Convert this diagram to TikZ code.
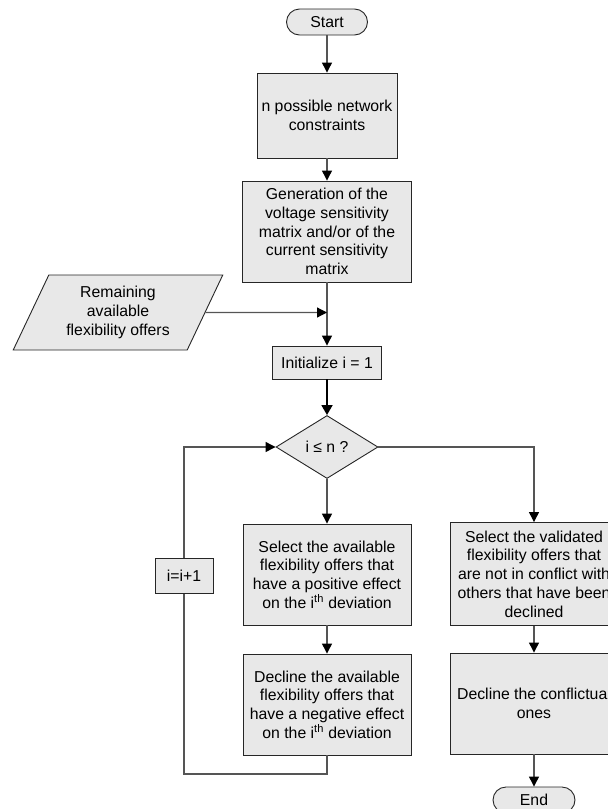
\documentclass[tikz,border=0pt]{standalone}
\usepackage{fontspec}
\setmainfont{Liberation Sans}
\usetikzlibrary{arrows.meta,shapes.geometric}
\definecolor{boxfill}{HTML}{E8E8E8}
\definecolor{linegray}{HTML}{555555}
\tikzset{
  every node/.style={font=\fontsize{15.8}{18.7}\selectfont, align=center},
  procbox/.style={draw=black!85, line width=0.9pt, fill=boxfill, inner sep=0pt},
  termbox/.style={draw=black!85, line width=0.9pt, fill=boxfill, rounded corners=13pt,
    minimum width=81pt, minimum height=26pt, inner sep=0pt},
  decbox/.style={draw=black!85, line width=0.9pt, fill=boxfill, diamond, aspect=1.62,
    minimum width=102pt, minimum height=63pt, inner sep=0pt},
  iobox/.style={draw=black!85, line width=0.9pt, fill=boxfill, trapezium,
    trapezium left angle=63, trapezium right angle=117, trapezium stretches=true,
    minimum width=210pt, minimum height=75pt, inner sep=0pt},
  conn/.style={draw=linegray, line width=1.2pt},
  arr/.style={conn, -{Triangle[length=10pt,width=10pt,color=black]}},
  boldarr/.style={draw=black, line width=1.8pt, -{Triangle[length=10pt,width=11pt,color=black]}},
}
\begin{document}
\begin{tikzpicture}[x=1pt,y=-1pt]
\useasboundingbox (0,0) rectangle (608,809);
\clip (0,0) rectangle (608,809);
\path (327,22) coordinate (pstart)
      (327,115.5) coordinate (pb1)
      (327,231.5) coordinate (pb2)
      (327,362.5) coordinate (pinit)
      (327,447) coordinate (pdec)
      (327,574.5) coordinate (pb3)
      (327,704.5) coordinate (pb5)
      (534,574) coordinate (pb4)
      (534,703.5) coordinate (pb6)
      (184,575.5) coordinate (pinc)
      (534,800) coordinate (pend)
      (118,312.5) coordinate (prem);

\node[termbox] (start) at (pstart) {Start};
\node[procbox, minimum width=140pt, minimum height=85pt] (b1) at (pb1) {n possible network\\constraints};
\node[procbox, minimum width=169pt, minimum height=101pt] (b2) at (pb2) {Generation of the\\voltage sensitivity\\matrix and/or of the\\current sensitivity\\matrix};
\node[iobox] (rem) at (prem) {Remaining\\available\\flexibility offers};
\node[procbox, minimum width=109pt, minimum height=33pt] (init) at (pinit) {Initialize i = 1};
\node[decbox] (dec) at (pdec) {i ≤ n ?};
\node[procbox, minimum width=168pt, minimum height=101pt] (b3) at (pb3) {Select the available\\flexibility offers that\\have a positive effect\\on the i\textsuperscript{th} deviation};
\node[procbox, minimum width=168pt, minimum height=101pt] (b5) at (pb5) {Decline the available\\flexibility offers that\\have a negative effect\\on the i\textsuperscript{th} deviation};
\node[procbox, minimum width=168pt, minimum height=103pt] (b4) at (pb4) {Select the validated\\flexibility offers that\\are not in conflict with\\others that have been\\declined};
\node[procbox, minimum width=168pt, minimum height=101pt] (b6) at (pb6) {Decline the conflictual\\ones};
\node[termbox, minimum width=82pt] (end) at (pend) {End};

\coordinate (join) at (327,312.5);
\coordinate (loopb) at (184,774);

\draw[arr] (start) -- (b1);
\draw[arr] (b1) -- (b2);
\draw[conn] (b2) -- (join);
\draw[arr] (rem.east) -- (join);
\draw[arr] (join) -- (init);
\draw[boldarr] (init) -- (dec);
\draw[arr] (dec) -- (b3);
\draw[arr] (b3) -- (b5);
\draw[conn] (b5.south) |- (loopb) -- (pinc |- 0,593);
\draw[arr] (pinc |- 0,558) |- (dec.west);
\draw[arr] (dec.east) -| (b4.north);
\draw[arr] (b4) -- (b6);
\draw[arr] (b6) -- (end);
\node[procbox, minimum width=58pt, minimum height=35pt] (inc) at (pinc) {i=i+1};
\end{tikzpicture}
\end{document}
